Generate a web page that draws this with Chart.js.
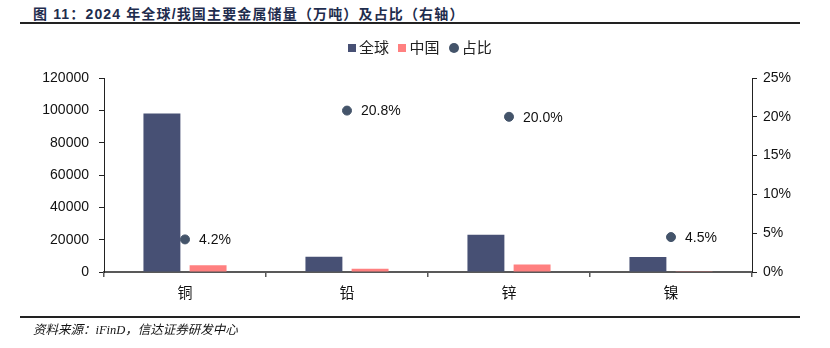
<!DOCTYPE html>
<html lang="zh">
<head>
    <meta charset="UTF-8">
    <title>2024 年全球/我国主要金属储量</title>
    <script src="https://cdn.jsdelivr.net/npm/chart.js"></script>
    <style>
        body {
            margin: 0;
            width: 830px;
            height: 348px;
            position: relative;
            background: #fff;
            font-family: "Liberation Sans", Arial, "Noto Sans CJK SC", sans-serif;
            overflow: hidden;
        }

        .title {
            position: absolute;
            left: 33px;
            top: 3px;
            font-size: 14px;
            letter-spacing: 1.15px;
            font-weight: bold;
            color: #1f2d4e;
            font-family: "Liberation Sans", Arial, "Noto Sans CJK SC", sans-serif;
            white-space: nowrap;
        }

        .rule {
            position: absolute;
            left: 20px;
            width: 780px;
            height: 2px;
            background: #222;
        }

        .legend {
            position: absolute;
            top: 36px;
            left: 348px;
            font-family: "Noto Sans CJK SC", sans-serif;
            font-size: 15px;
            color: #222;
            white-space: nowrap;
        }

        .legend span { margin-right: 6px; }
        .legend i {
            display: inline-block;
            width: 8px;
            height: 8px;
            margin-right: 3px;
            vertical-align: 1px;
        }
        .legend i.dot { border-radius: 50%; width: 10px; height: 10px; vertical-align: 0px; }

        .source {
            position: absolute;
            left: 33px;
            top: 319px;
            font-size: 12.5px;
            font-style: italic;
            color: #111;
            font-family: "Liberation Serif", "Noto Sans CJK SC", serif;
        }

        #chart {
            position: absolute;
            left: 0;
            top: 0;
        }
    </style>
</head>
<body>
    <div class="title">图 11：2024 年全球/我国主要金属储量（万吨）及占比（右轴）</div>
    <div class="rule" style="top:22px"></div>
    <canvas id="chart" width="830" height="348"></canvas>
    <div class="legend">
        <span><i style="background:#475074"></i>全球</span>
        <span><i style="background:#ff8080"></i>中国</span>
        <span><i class="dot" style="background:#44546a"></i>占比</span>
    </div>
    <div class="rule" style="top:316px"></div>
    <div class="source">资料来源：iFinD，信达证券研发中心</div>

    <script>
        const metals = ['铜', '铅', '锌', '镍'];
        const worldReserves = [98000, 9500, 23000, 9300];
        const chinaReserves = [4100, 1980, 4600, 420];
        const chinaShare = [4.2, 20.8, 20.0, 4.5];

        const leftTicks = [0, 20000, 40000, 60000, 80000, 100000, 120000];
        const rightTicks = [0, 5, 10, 15, 20, 25];

        // labels to the right of the share dots
        const shareLabels = {
            id: 'shareLabels',
            afterDatasetsDraw(chart) {
                const ctx = chart.ctx;
                const meta = chart.getDatasetMeta(2);
                ctx.save();
                ctx.font = '14px "Liberation Sans", Arial, sans-serif';
                ctx.fillStyle = '#111';
                ctx.textBaseline = 'middle';
                ctx.textAlign = 'left';
                meta.data.forEach((pt, i) => {
                    ctx.fillText(chinaShare[i].toFixed(1) + '%', pt.x + 14, pt.y + 1);
                });
                ctx.restore();
            }
        };

        new Chart(document.getElementById('chart'), {
            type: 'bar',
            data: {
                labels: metals,
                datasets: [
                    {
                        label: '全球',
                        data: worldReserves,
                        backgroundColor: '#475074',
                        categoryPercentage: 0.57,
                        barPercentage: 0.8,
                        yAxisID: 'y',
                        order: 2
                    },
                    {
                        label: '中国',
                        data: chinaReserves,
                        backgroundColor: '#ff8080',
                        categoryPercentage: 0.57,
                        barPercentage: 0.8,
                        yAxisID: 'y',
                        order: 2
                    },
                    {
                        type: 'line',
                        label: '占比',
                        data: chinaShare,
                        showLine: false,
                        pointRadius: 4.5,
                        pointBackgroundColor: '#44546a',
                        pointBorderColor: '#44546a',
                        yAxisID: 'y1',
                        order: 1
                    }
                ]
            },
            options: {
                responsive: false,
                animation: false,
                layout: { padding: { left: 20, right: 18, top: 78, bottom: 36 } },
                plugins: {
                    legend: { display: false },
                    tooltip: { enabled: false }
                },
                scales: {
                    x: {
                        offset: true,
                        grid: {
                            offset: true,
                            drawOnChartArea: false,
                            tickLength: 5,
                            color: '#595959',
                            lineWidth: 1.5
                        },
                        border: { color: '#595959', width: 2 },
                        ticks: {
                            color: '#111',
                            padding: 6,
                            font: { family: '"Noto Sans CJK SC", sans-serif', size: 15 }
                        },
                        afterFit(scale) { scale.height = 40; }
                    },
                    y: {
                        position: 'left',
                        min: 0,
                        max: 120000,
                        afterBuildTicks(scale) { scale.ticks = leftTicks.map(v => ({ value: v })); },
                        grid: { drawOnChartArea: false, tickLength: 5, color: '#222' },
                        border: { color: '#222', width: 1 },
                        ticks: {
                            color: '#111',
                            padding: 10,
                            callback: v => String(v),
                            font: { family: '"Liberation Sans", Arial, sans-serif', size: 14 }
                        },
                        afterFit(scale) { scale.width = 84; }
                    },
                    y1: {
                        position: 'right',
                        min: 0,
                        max: 25,
                        afterBuildTicks(scale) { scale.ticks = rightTicks.map(v => ({ value: v })); },
                        grid: { drawOnChartArea: false, tickLength: 5, color: '#222' },
                        border: { color: '#222', width: 1 },
                        ticks: {
                            color: '#111',
                            padding: 6,
                            callback: v => v + '%',
                            font: { family: '"Liberation Sans", Arial, sans-serif', size: 14 }
                        },
                        afterFit(scale) { scale.width = 60; }
                    }
                }
            },
            plugins: [shareLabels]
        });
    </script>
</body>
</html>
